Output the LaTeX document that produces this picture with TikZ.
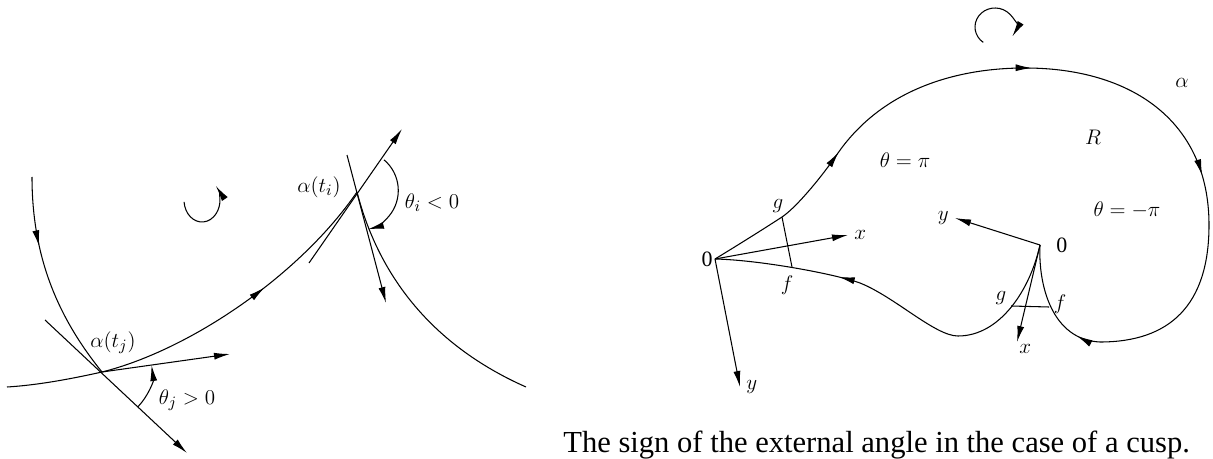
\documentclass[tikz,border=0pt]{standalone}
\usepackage{fontspec}
\setmainfont{Liberation Serif}
\usetikzlibrary{arrows.meta,decorations.markings}

\begin{document}
\begin{tikzpicture}[
    x=0.02cm, y=-0.02cm,
    font=\fontsize{12.5}{15}\selectfont,
    line width=0.6pt,
    >={Latex[length=3.2mm,width=1.4mm]},
    curve/.style={line width=0.6pt},
    midarrow/.style={postaction={decorate, decoration={markings, mark=at position #1 with {\arrow{>}}}}},
    lbl/.style={inner sep=1pt}
]
\useasboundingbox (0,0) rectangle (1213,459);

% left: corners of a closed curve
\coordinate (tj) at (102,372);
\coordinate (ti) at (357,192);
\coordinate (tjin) at (45,320);
\coordinate (tjinend) at (187,453);
\coordinate (tjout) at (230,354);
\coordinate (tiin) at (309,263);
\coordinate (tiinend) at (402,129);
\coordinate (tiout) at (347,155);
\coordinate (tioutend) at (386,303);

\draw[curve, midarrow=0.33] (32,177) .. controls (32,260) and (60,320) .. (tj);
\draw[curve] (7,387) .. controls (40,385) and (75,378) .. (tj);
\draw[curve, midarrow=0.58] (tj) .. controls (190,350) and (300,275) .. (ti);
\draw[curve] (ti) .. controls (375,262) and (420,340) .. (526,387);

\draw[->] (tjin) -- (tjinend);
\draw[->] (tj) -- (tjout);
\draw[->] (tiin) -- (tiinend);
\draw[->] (tiout) -- (tioutend);

\draw[->] (tj) ++(44:50) arc[start angle=44, end angle=-8, radius=50];
\draw[->] (ti) ++(-50:42) arc[start angle=-50, end angle=76, radius=40];
\draw[->] (202,200) ++(175:18 and 22) arc[start angle=175, end angle=-40, x radius=18, y radius=22];

\node[lbl] (atj) at (113,343) {$\alpha(t_j)$};
\node[lbl] (thj) at (187,400) {$\theta_j > 0$};
\node[lbl] (ati) at (319,187) {$\alpha(t_i)$};
\node[lbl] (thi) at (432,203) {$\theta_i < 0$};

% right: the cusp
\coordinate (cusp1) at (715,259);
\coordinate (cusp2) at (1040,245);
\coordinate (g1) at (782,217);
\coordinate (f1) at (792,267);
\coordinate (g2) at (1011,306);
\coordinate (f2) at (1049,307);

\draw[curve, midarrow=0.172, midarrow=0.40, midarrow=0.625, midarrow=0.893]
  (cusp1) .. controls (738,245) and (762,230) .. (g1)
  .. controls (797,207) and (823,175) .. (838,153)
  .. controls (882,90) and (955,68) .. (1025,68)
  .. controls (1130,68) and (1209,120) .. (1209,225)
  .. controls (1209,305) and (1170,342) .. (1100,342)
  .. controls (1052,340) and (1038,285) .. (cusp2);
\draw[curve, midarrow=0.68]
  (cusp2) .. controls (1030,290) and (1000,336) .. (958,336)
  .. controls (935,336) and (895,297) .. (860,283)
  .. controls (835,274) and (760,260) .. (cusp1);

\draw[->] (cusp1) -- (848,235) node[right] (x1) {$x$};
\draw[->] (cusp1) -- (740,387) node[right] (y1) {$y$};
\draw (g1) -- (f1);
\draw[->] (cusp2) -- (955,218) node[left] (y2) {$y$};
\draw[->] (cusp2) -- (1017,342) node[below right, inner sep=1pt] (x2) {$x$};
\draw (g2) -- (f2);

\draw[->] (995,27) ++(126:20 and 19) arc[start angle=126, end angle=390, x radius=20, y radius=19];

\node[lbl, anchor=east] (o1) at (cusp1) {0};
\node[lbl, anchor=west] (o2) at ([xshift=8]cusp2) {0};
\node[lbl] (lg1) at (778,206) {$g$};
\node[lbl] (lf1) at (787,285) {$f$};
\node[lbl] (lg2) at (1001,298) {$g$};
\node[lbl] (lf2) at (1060,304) {$f$};
\node[lbl] (thpi) at (905,160) {$\theta = \pi$};
\node[lbl] (reg) at (1093,137) {$R$};
\node[lbl] (alpha) at (1182,83) {$\alpha$};
\node[lbl] (thmpi) at (1127,210) {$\theta = -\pi$};

\node[anchor=base west, font=\fontsize{17.4}{20}\selectfont] (caption) at (557,452)
  {The sign of the external angle in the case of a cusp.};
\end{tikzpicture}
\end{document}
